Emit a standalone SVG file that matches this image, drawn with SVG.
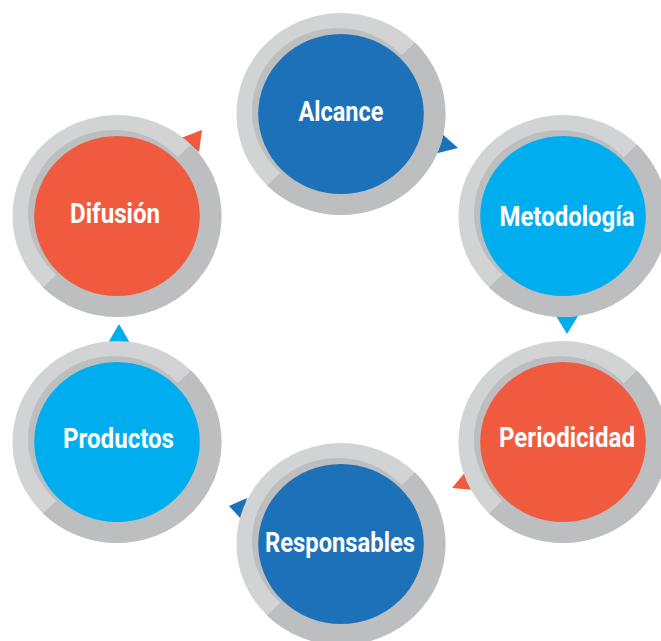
<svg xmlns="http://www.w3.org/2000/svg" width="661" height="641" viewBox="0 0 661 641">
<style>
.ring{fill:#d1d3d4}
.ringd{fill:#bcbec0}
.sh{fill:#bcbec0}
.blue{fill:#1d71b8}
.cyan{fill:#00aeef}
.orange{fill:#f05b40}
.lbl{font-family:Roboto,"Liberation Sans",sans-serif;font-weight:700;font-size:27px;fill:#ffffff;text-anchor:middle}
</style>
<defs>
<g id="ringbase">
<circle r="101" class="ring"/>
<path d="M71.42,-71.42 A101,101 0 0 1 -71.42,71.42 Z" class="ringd"/>
<circle cx="-3" cy="-3" r="83" class="sh"/>
</g>
</defs>
<rect width="661" height="641" fill="#ffffff"/>
<g id="connectors">
<polygon class="blue" points="440,132 458,148 434,154"/>
<polygon class="cyan" points="556,316 578,316 567,334"/>
<polygon class="orange" points="467,470 452,488 474,490"/>
<polygon class="blue" points="229,506 247,498 242,520"/>
<polygon class="cyan" points="108,343 130,343 119,324"/>
<polygon class="orange" points="181,138 202,130 199,152"/>
</g>
<g id="alcance">
<g transform="translate(341,114) scale(1.035,1)"><use href="#ringbase"/><circle r="80" class="blue"/></g>
<text x="341" y="121" class="lbl" textLength="85" lengthAdjust="spacingAndGlyphs">Alcance</text>
</g>
<g id="metodologia">
<g transform="translate(563,216) scale(1.035,1)"><use href="#ringbase"/><circle r="80" class="cyan"/></g>
<text x="567" y="226" class="lbl" textLength="135" lengthAdjust="spacingAndGlyphs">Metodología</text>
</g>
<g id="periodicidad">
<g transform="translate(563,442) scale(1.035,1)"><use href="#ringbase"/><circle r="80" class="orange"/></g>
<text x="567" y="447" class="lbl" textLength="136" lengthAdjust="spacingAndGlyphs">Periodicidad</text>
</g>
<g id="responsables">
<g transform="translate(341,544) scale(1.035,1)"><use href="#ringbase"/><circle r="80" class="blue"/></g>
<text x="340" y="552" class="lbl" textLength="150" lengthAdjust="spacingAndGlyphs">Responsables</text>
</g>
<g id="productos">
<g transform="translate(117,442) scale(1.035,1)"><use href="#ringbase"/><circle r="80" class="cyan"/></g>
<text x="118.5" y="448" class="lbl" textLength="111" lengthAdjust="spacingAndGlyphs">Productos</text>
</g>
<g id="difusion">
<g transform="translate(117,216) scale(1.035,1)"><use href="#ringbase"/><circle r="80" class="orange"/></g>
<text x="115" y="223" class="lbl" textLength="90" lengthAdjust="spacingAndGlyphs">Difusión</text>
</g>
</svg>
